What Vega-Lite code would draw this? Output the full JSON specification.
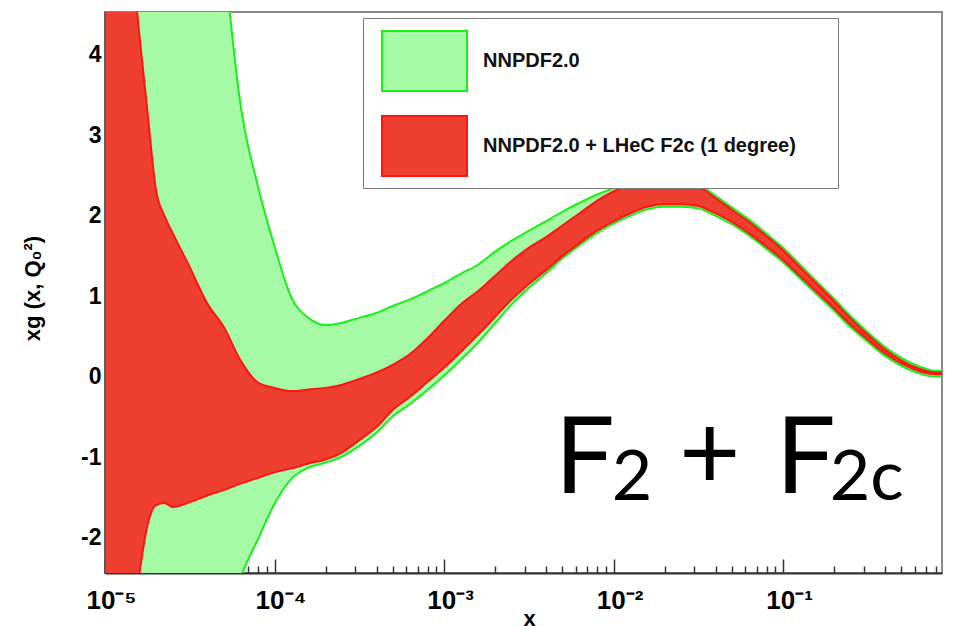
{
  "$schema": "https://vega.github.io/schema/vega-lite/v6.json",
  "width": 837,
  "height": 561,
  "autosize": {"type": "none"},
  "padding": {"left": 105, "top": 12, "right": 15, "bottom": 53},
  "background": "white",
  "title": {"text": "x", "font": "Liberation Sans", "fontWeight": "bold", "fontSize": 22, "anchor": "middle", "baseline": "alphabetic", "offset": 9, "dx": 6, "color": "black"},
  "config": {
    "view": {"stroke": "#8a8a8a", "strokeWidth": 2},
    "axis": {"grid": false, "labelFont": "Liberation Sans", "labelFontWeight": "bold", "labelColor": "black", "tickColor": "#333", "domainColor": "#333", "titleFont": "Liberation Sans", "titleFontWeight": "bold", "titleColor": "black", "zindex": 1, "labelFlush": false, "labelOverlap": false}
  },
  "datasets": {
    "bands": [
      {"series": "NNPDF2.0", "x": 1e-5, "lo": -8, "hi": 20},
      {"series": "NNPDF2.0", "x": 1.259e-5, "lo": -8, "hi": 18.5},
      {"series": "NNPDF2.0", "x": 1.585e-5, "lo": -8, "hi": 17},
      {"series": "NNPDF2.0", "x": 1.995e-5, "lo": -8, "hi": 15},
      {"series": "NNPDF2.0", "x": 2.512e-5, "lo": -7, "hi": 13},
      {"series": "NNPDF2.0", "x": 3.162e-5, "lo": -5.6, "hi": 10.5},
      {"series": "NNPDF2.0", "x": 3.981e-5, "lo": -4.3, "hi": 7.8},
      {"series": "NNPDF2.0", "x": 5.012e-5, "lo": -3.25, "hi": 5.3},
      {"series": "NNPDF2.0", "x": 6.310e-5, "lo": -2.5, "hi": 3.37},
      {"series": "NNPDF2.0", "x": 7.943e-5, "lo": -2.03, "hi": 2.38},
      {"series": "NNPDF2.0", "x": 1e-4, "lo": -1.58, "hi": 1.62},
      {"series": "NNPDF2.0", "x": 1.259e-4, "lo": -1.27, "hi": 0.98},
      {"series": "NNPDF2.0", "x": 1.585e-4, "lo": -1.13, "hi": 0.73},
      {"series": "NNPDF2.0", "x": 1.995e-4, "lo": -1.07, "hi": 0.64},
      {"series": "NNPDF2.0", "x": 2.512e-4, "lo": -0.99, "hi": 0.67},
      {"series": "NNPDF2.0", "x": 3.162e-4, "lo": -0.86, "hi": 0.73},
      {"series": "NNPDF2.0", "x": 3.981e-4, "lo": -0.70, "hi": 0.79},
      {"series": "NNPDF2.0", "x": 5.012e-4, "lo": -0.49, "hi": 0.88},
      {"series": "NNPDF2.0", "x": 6.310e-4, "lo": -0.34, "hi": 0.96},
      {"series": "NNPDF2.0", "x": 7.943e-4, "lo": -0.17, "hi": 1.06},
      {"series": "NNPDF2.0", "x": 1e-3, "lo": 0.01, "hi": 1.16},
      {"series": "NNPDF2.0", "x": 1.259e-3, "lo": 0.21, "hi": 1.28},
      {"series": "NNPDF2.0", "x": 1.585e-3, "lo": 0.42, "hi": 1.39},
      {"series": "NNPDF2.0", "x": 1.995e-3, "lo": 0.66, "hi": 1.55},
      {"series": "NNPDF2.0", "x": 2.512e-3, "lo": 0.90, "hi": 1.69},
      {"series": "NNPDF2.0", "x": 3.162e-3, "lo": 1.10, "hi": 1.81},
      {"series": "NNPDF2.0", "x": 3.981e-3, "lo": 1.28, "hi": 1.93},
      {"series": "NNPDF2.0", "x": 5.012e-3, "lo": 1.47, "hi": 2.05},
      {"series": "NNPDF2.0", "x": 6.310e-3, "lo": 1.63, "hi": 2.16},
      {"series": "NNPDF2.0", "x": 7.943e-3, "lo": 1.78, "hi": 2.26},
      {"series": "NNPDF2.0", "x": 0.01, "lo": 1.90, "hi": 2.34},
      {"series": "NNPDF2.0", "x": 0.01259, "lo": 2.00, "hi": 2.41},
      {"series": "NNPDF2.0", "x": 0.01585, "lo": 2.08, "hi": 2.45},
      {"series": "NNPDF2.0", "x": 0.01995, "lo": 2.11, "hi": 2.46},
      {"series": "NNPDF2.0", "x": 0.02512, "lo": 2.11, "hi": 2.43},
      {"series": "NNPDF2.0", "x": 0.03162, "lo": 2.09, "hi": 2.39},
      {"series": "NNPDF2.0", "x": 0.03981, "lo": 2.00, "hi": 2.25},
      {"series": "NNPDF2.0", "x": 0.05012, "lo": 1.89, "hi": 2.10},
      {"series": "NNPDF2.0", "x": 0.06310, "lo": 1.75, "hi": 1.95},
      {"series": "NNPDF2.0", "x": 0.07943, "lo": 1.59, "hi": 1.78},
      {"series": "NNPDF2.0", "x": 0.1, "lo": 1.42, "hi": 1.60},
      {"series": "NNPDF2.0", "x": 0.1259, "lo": 1.22, "hi": 1.39},
      {"series": "NNPDF2.0", "x": 0.1585, "lo": 1.02, "hi": 1.18},
      {"series": "NNPDF2.0", "x": 0.1995, "lo": 0.82, "hi": 0.97},
      {"series": "NNPDF2.0", "x": 0.2512, "lo": 0.61, "hi": 0.75},
      {"series": "NNPDF2.0", "x": 0.3162, "lo": 0.43, "hi": 0.55},
      {"series": "NNPDF2.0", "x": 0.3981, "lo": 0.26, "hi": 0.37},
      {"series": "NNPDF2.0", "x": 0.5012, "lo": 0.13, "hi": 0.23},
      {"series": "NNPDF2.0", "x": 0.6310, "lo": 0.04, "hi": 0.13},
      {"series": "NNPDF2.0", "x": 0.7943, "lo": 0.00, "hi": 0.07},
      {"series": "NNPDF2.0", "x": 0.867, "lo": 0.00, "hi": 0.07},
      {"series": "NNPDF2.0 + LHeC F2c (1 degree)", "x": 1e-5, "lo": -6, "hi": 9},
      {"series": "NNPDF2.0 + LHeC F2c (1 degree)", "x": 1.259e-5, "lo": -3.8, "hi": 6.5},
      {"series": "NNPDF2.0 + LHeC F2c (1 degree)", "x": 1.585e-5, "lo": -2.48, "hi": 4.3},
      {"series": "NNPDF2.0 + LHeC F2c (1 degree)", "x": 1.778e-5, "lo": -1.85, "hi": 3.3},
      {"series": "NNPDF2.0 + LHeC F2c (1 degree)", "x": 1.995e-5, "lo": -1.6, "hi": 2.33},
      {"series": "NNPDF2.0 + LHeC F2c (1 degree)", "x": 2.239e-5, "lo": -1.57, "hi": 2.0},
      {"series": "NNPDF2.0 + LHeC F2c (1 degree)", "x": 2.512e-5, "lo": -1.62, "hi": 1.78},
      {"series": "NNPDF2.0 + LHeC F2c (1 degree)", "x": 3.162e-5, "lo": -1.56, "hi": 1.36},
      {"series": "NNPDF2.0 + LHeC F2c (1 degree)", "x": 3.981e-5, "lo": -1.48, "hi": 0.92},
      {"series": "NNPDF2.0 + LHeC F2c (1 degree)", "x": 5.012e-5, "lo": -1.41, "hi": 0.62},
      {"series": "NNPDF2.0 + LHeC F2c (1 degree)", "x": 6.310e-5, "lo": -1.33, "hi": 0.2},
      {"series": "NNPDF2.0 + LHeC F2c (1 degree)", "x": 7.943e-5, "lo": -1.26, "hi": -0.07},
      {"series": "NNPDF2.0 + LHeC F2c (1 degree)", "x": 1e-4, "lo": -1.19, "hi": -0.14},
      {"series": "NNPDF2.0 + LHeC F2c (1 degree)", "x": 1.259e-4, "lo": -1.14, "hi": -0.18},
      {"series": "NNPDF2.0 + LHeC F2c (1 degree)", "x": 1.585e-4, "lo": -1.08, "hi": -0.16},
      {"series": "NNPDF2.0 + LHeC F2c (1 degree)", "x": 1.995e-4, "lo": -1.03, "hi": -0.14},
      {"series": "NNPDF2.0 + LHeC F2c (1 degree)", "x": 2.512e-4, "lo": -0.94, "hi": -0.10},
      {"series": "NNPDF2.0 + LHeC F2c (1 degree)", "x": 3.162e-4, "lo": -0.79, "hi": -0.03},
      {"series": "NNPDF2.0 + LHeC F2c (1 degree)", "x": 3.981e-4, "lo": -0.63, "hi": 0.05},
      {"series": "NNPDF2.0 + LHeC F2c (1 degree)", "x": 5.012e-4, "lo": -0.41, "hi": 0.15},
      {"series": "NNPDF2.0 + LHeC F2c (1 degree)", "x": 6.310e-4, "lo": -0.25, "hi": 0.28},
      {"series": "NNPDF2.0 + LHeC F2c (1 degree)", "x": 7.943e-4, "lo": -0.07, "hi": 0.47},
      {"series": "NNPDF2.0 + LHeC F2c (1 degree)", "x": 1e-3, "lo": 0.11, "hi": 0.69},
      {"series": "NNPDF2.0 + LHeC F2c (1 degree)", "x": 1.259e-3, "lo": 0.31, "hi": 0.90},
      {"series": "NNPDF2.0 + LHeC F2c (1 degree)", "x": 1.585e-3, "lo": 0.52, "hi": 1.06},
      {"series": "NNPDF2.0 + LHeC F2c (1 degree)", "x": 1.995e-3, "lo": 0.74, "hi": 1.25},
      {"series": "NNPDF2.0 + LHeC F2c (1 degree)", "x": 2.512e-3, "lo": 0.96, "hi": 1.44},
      {"series": "NNPDF2.0 + LHeC F2c (1 degree)", "x": 3.162e-3, "lo": 1.15, "hi": 1.60},
      {"series": "NNPDF2.0 + LHeC F2c (1 degree)", "x": 3.981e-3, "lo": 1.32, "hi": 1.73},
      {"series": "NNPDF2.0 + LHeC F2c (1 degree)", "x": 5.012e-3, "lo": 1.50, "hi": 1.88},
      {"series": "NNPDF2.0 + LHeC F2c (1 degree)", "x": 6.310e-3, "lo": 1.66, "hi": 2.03},
      {"series": "NNPDF2.0 + LHeC F2c (1 degree)", "x": 7.943e-3, "lo": 1.81, "hi": 2.18},
      {"series": "NNPDF2.0 + LHeC F2c (1 degree)", "x": 0.01, "lo": 1.93, "hi": 2.30},
      {"series": "NNPDF2.0 + LHeC F2c (1 degree)", "x": 0.01259, "lo": 2.03, "hi": 2.38},
      {"series": "NNPDF2.0 + LHeC F2c (1 degree)", "x": 0.01585, "lo": 2.11, "hi": 2.42},
      {"series": "NNPDF2.0 + LHeC F2c (1 degree)", "x": 0.01995, "lo": 2.14, "hi": 2.43},
      {"series": "NNPDF2.0 + LHeC F2c (1 degree)", "x": 0.02512, "lo": 2.14, "hi": 2.40},
      {"series": "NNPDF2.0 + LHeC F2c (1 degree)", "x": 0.03162, "lo": 2.12, "hi": 2.36},
      {"series": "NNPDF2.0 + LHeC F2c (1 degree)", "x": 0.03981, "lo": 2.03, "hi": 2.22},
      {"series": "NNPDF2.0 + LHeC F2c (1 degree)", "x": 0.05012, "lo": 1.92, "hi": 2.07},
      {"series": "NNPDF2.0 + LHeC F2c (1 degree)", "x": 0.06310, "lo": 1.78, "hi": 1.92},
      {"series": "NNPDF2.0 + LHeC F2c (1 degree)", "x": 0.07943, "lo": 1.62, "hi": 1.75},
      {"series": "NNPDF2.0 + LHeC F2c (1 degree)", "x": 0.1, "lo": 1.45, "hi": 1.57},
      {"series": "NNPDF2.0 + LHeC F2c (1 degree)", "x": 0.1259, "lo": 1.25, "hi": 1.36},
      {"series": "NNPDF2.0 + LHeC F2c (1 degree)", "x": 0.1585, "lo": 1.05, "hi": 1.15},
      {"series": "NNPDF2.0 + LHeC F2c (1 degree)", "x": 0.1995, "lo": 0.85, "hi": 0.94},
      {"series": "NNPDF2.0 + LHeC F2c (1 degree)", "x": 0.2512, "lo": 0.64, "hi": 0.72},
      {"series": "NNPDF2.0 + LHeC F2c (1 degree)", "x": 0.3162, "lo": 0.46, "hi": 0.52},
      {"series": "NNPDF2.0 + LHeC F2c (1 degree)", "x": 0.3981, "lo": 0.29, "hi": 0.34},
      {"series": "NNPDF2.0 + LHeC F2c (1 degree)", "x": 0.5012, "lo": 0.16, "hi": 0.20},
      {"series": "NNPDF2.0 + LHeC F2c (1 degree)", "x": 0.6310, "lo": 0.07, "hi": 0.10},
      {"series": "NNPDF2.0 + LHeC F2c (1 degree)", "x": 0.7943, "lo": 0.03, "hi": 0.05},
      {"series": "NNPDF2.0 + LHeC F2c (1 degree)", "x": 0.867, "lo": 0.03, "hi": 0.05}
    ],
    "ann": [{"big": "F", "sub": "2", "plus": "+", "subc": "2c"}]
  },
  "layer": [
    {
      "data": {"name": "bands"},
      "mark": {"type": "area", "interpolate": "monotone", "clip": true, "strokeWidth": 2, "opacity": 1, "fillOpacity": 1},
      "encoding": {
        "x": {"field": "x", "type": "quantitative",
          "scale": {"type": "log", "domain": [1e-5, 0.867], "nice": false},
          "axis": {"orient": "bottom", "values": [1e-5, 1e-4, 1e-3, 1e-2, 1e-1],
            "labelExpr": "'10' + (datum.value < 2e-5 ? '⁻⁵' : datum.value < 2e-4 ? '⁻⁴' : datum.value < 2e-3 ? '⁻³' : datum.value < 2e-2 ? '⁻²' : '⁻¹')",
            "labelFontSize": 26, "labelBaseline": "top", "labelOffset": 6, "tickSize": -14, "tickWidth": 1.5, "labelPadding": 28,
            "domainWidth": 2, "title": "x", "titleFontSize": 22, "titleX": 424, "titleY": 52, "titleBaseline": "alphabetic"}},
        "y": {"field": "lo", "type": "quantitative",
          "scale": {"domain": [-2.44, 4.53], "nice": false, "zero": false},
          "axis": {"orient": "left", "values": [-2, -1, 0, 1, 2, 3, 4],
            "labelExpr": "datum.value < 0 ? '-' + abs(datum.value) : '' + datum.value",
            "labelFontSize": 23, "tickSize": -14, "tickWidth": 1.5, "labelPadding": 18, "domainWidth": 2,
            "title": "xg (x, Q₀²)", "titleFontSize": 22, "titleAngle": -90, "titleX": -66, "titleY": 276, "titleBaseline": "alphabetic", "titleAlign": "center"}},
        "y2": {"field": "hi"},
        "fill": {"field": "series", "type": "nominal",
          "scale": {"domain": ["NNPDF2.0", "NNPDF2.0 + LHeC F2c (1 degree)"], "range": ["#a6faa6", "#ee3f30"]},
          "legend": {"orient": "none", "legendX": 258, "legendY": 6, "title": null,
            "fillColor": "white", "strokeColor": "#7a7a7a", "padding": 8,
            "symbolType": "M-0.706,-0.882H1.794V0.882H-0.706Z", "symbolSize": 4624, "symbolStrokeWidth": 2,
            "labelOffset": 42, "rowPadding": 16, "labelFont": "Liberation Sans", "labelFontWeight": "bold",
            "labelFontSize": 20, "labelColor": "#111", "labelLimit": 700,
            "labelExpr": "datum.label + '\u00a0\u00a0\u00a0\u00a0\u00a0\u00a0\u200b'",
            "encode": {"legend": {"update": {"strokeWidth": {"value": 2}}}}}},
        "stroke": {"field": "series", "type": "nominal",
          "scale": {"domain": ["NNPDF2.0", "NNPDF2.0 + LHeC F2c (1 degree)"], "range": ["#19f019", "#ff1414"]},
          "legend": {"orient": "none", "legendX": 258, "legendY": 6, "title": null,
            "fillColor": "white", "strokeColor": "#7a7a7a", "padding": 8,
            "symbolType": "M-0.706,-0.882H1.794V0.882H-0.706Z", "symbolSize": 4624, "symbolStrokeWidth": 2,
            "labelOffset": 42, "rowPadding": 16, "labelFont": "Liberation Sans", "labelFontWeight": "bold",
            "labelFontSize": 20, "labelColor": "#111", "labelLimit": 700,
            "labelExpr": "datum.label + '\u00a0\u00a0\u00a0\u00a0\u00a0\u00a0\u200b'",
            "encode": {"legend": {"update": {"strokeWidth": {"value": 2}}}}}}
      }
    },
    {
      "data": {"name": "ann"},
      "mark": {"type": "text", "font": "Lato", "fontSize": 106, "align": "left", "baseline": "alphabetic", "color": "black"},
      "encoding": {
        "text": {"field": "big"},
        "x": {"datum": 0.0045, "type": "quantitative",
          "axis": {"orient": "bottom", "values": [2e-5, 3e-5, 4e-5, 5e-5, 6e-5, 7e-5, 8e-5, 9e-5, 2e-4, 3e-4, 4e-4, 5e-4, 6e-4, 7e-4, 8e-4, 9e-4, 2e-3, 3e-3, 4e-3, 5e-3, 6e-3, 7e-3, 8e-3, 9e-3, 0.02, 0.03, 0.04, 0.05, 0.06, 0.07, 0.08, 0.09, 0.2, 0.3, 0.4, 0.5, 0.6, 0.7, 0.8],
            "labels": false, "domain": false, "title": null, "tickSize": -7, "tickWidth": 1.5}},
        "y": {"datum": -1.445, "type": "quantitative",
          "axis": {"orient": "left", "values": [-2.4, -2.2, -1.8, -1.6, -1.4, -1.2, -0.8, -0.6, -0.4, -0.2, 0.2, 0.4, 0.6, 0.8, 1.2, 1.4, 1.6, 1.8, 2.2, 2.4, 2.6, 2.8, 3.2, 3.4, 3.6, 3.8, 4.2, 4.4],
            "labels": false, "domain": false, "title": null, "tickSize": -7, "tickWidth": 1.5}}
      }
    },
    {
      "data": {"name": "ann"},
      "mark": {"type": "text", "font": "Lato", "fontSize": 70, "align": "left", "baseline": "alphabetic", "dx": 57, "dy": 7, "color": "black"},
      "encoding": {
        "text": {"field": "sub"},
        "x": {"datum": 0.0045, "type": "quantitative", "axis": null},
        "y": {"datum": -1.445, "type": "quantitative", "axis": null}
      }
    },
    {
      "data": {"name": "ann"},
      "mark": {"type": "text", "font": "Lato", "fontSize": 106, "align": "center", "baseline": "alphabetic", "dx": 155, "dy": -4, "color": "black"},
      "encoding": {
        "text": {"field": "plus"},
        "x": {"datum": 0.0045, "type": "quantitative", "axis": null},
        "y": {"datum": -1.445, "type": "quantitative", "axis": null}
      }
    },
    {
      "data": {"name": "ann"},
      "mark": {"type": "text", "font": "Lato", "fontSize": 106, "align": "left", "baseline": "alphabetic", "dx": 221, "color": "black"},
      "encoding": {
        "text": {"field": "big"},
        "x": {"datum": 0.0045, "type": "quantitative", "axis": null},
        "y": {"datum": -1.445, "type": "quantitative", "axis": null}
      }
    },
    {
      "data": {"name": "ann"},
      "mark": {"type": "text", "font": "Lato", "fontSize": 70, "align": "left", "baseline": "alphabetic", "dx": 275, "dy": 7, "color": "black"},
      "encoding": {
        "text": {"field": "subc"},
        "x": {"datum": 0.0045, "type": "quantitative", "axis": null},
        "y": {"datum": -1.445, "type": "quantitative", "axis": null}
      }
    }
  ],
  "resolve": {"axis": {"x": "independent", "y": "independent"}}
}
